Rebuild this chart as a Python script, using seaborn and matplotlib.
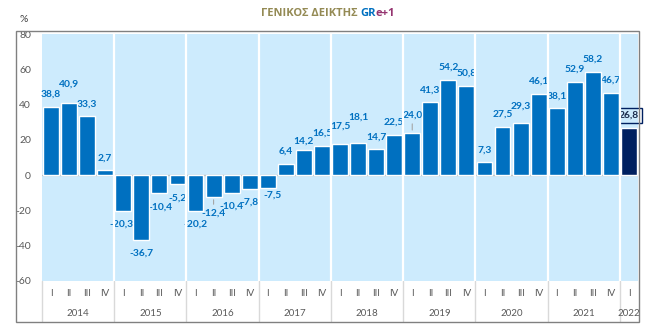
import matplotlib
matplotlib.use("Agg")
import matplotlib.pyplot as plt
import matplotlib.transforms as mtransforms
from matplotlib.patches import Rectangle
from matplotlib.lines import Line2D
import seaborn as sns
import pandas as pd

# ---------------- data ----------------
years = ["2014", "2015", "2016", "2017", "2018", "2019", "2020", "2021", "2022"]
quarters = ["I", "II", "III", "IV"]
values = [38.8, 40.9, 33.3, 2.7,
          -20.3, -36.7, -10.4, -5.2,
          -20.2, -12.4, -10.4, -7.8,
          -7.5, 6.4, 14.2, 16.5,
          17.5, 18.1, 14.7, 22.5,
          24.0, 41.3, 54.2, 50.8,
          7.3, 27.5, 29.3, 46.1,
          38.1, 52.9, 58.2, 46.7,
          26.8]
title_parts = ["ΓΕΝΙΚΟΣ ΔΕΙΚΤΗΣ ", "GR", "e+1"]
y_ticks = [-60, -40, -20, 0, 20, 40, 60, 80]

# ---------------- layout / style (label placement as in the reference) ----------------
label_dist_px = [12.7, 19, 12.7, 12.7, 13.2, 13, 13.8, 13.6, 13, 16, 12.8, 13,
                 7, 12.7, 9, 13, 17.7, 25.6, 11.6, 13, 17.7, 11.7, 12.4, 12.4,
                 12, 12.5, 17, 12.7, 11.7, 12.4, 13, 12.3, 12.7]
label_dx_px = {12: 5, 4: -1.5, 6: 1}
leader_idx = [9, 20]

n = len(values)
q_labels = [quarters[i % 4] for i in range(n)]
kinds = ["past"] * (n - 1) + ["latest"]
df = pd.DataFrame({"pos": list(range(n)), "value": values, "kind": kinds})

sns.set_theme(style="white")
plt.rcParams["font.family"] = ["Lato", "Open Sans", "DejaVu Sans"]

W, H = 658, 330
fig = plt.figure(figsize=(W / 100, H / 100), dpi=100)
fig.patch.set_facecolor("white")

def fx(px):
    return px / W

def fy(py):
    return 1 - py / H

ax_l, ax_r, ax_t, ax_b = 42, 638, 34, 281
ax = fig.add_axes([fx(ax_l), fy(ax_b), (ax_r - ax_l) / W, (ax_b - ax_t) / H])
ax.set_facecolor("#CDEBFD")

BLUE = "#0070C0"
NAVY = "#002060"

sns.barplot(data=df, x="pos", y="value", hue="kind",
            palette={"past": BLUE, "latest": NAVY}, dodge=False,
            width=0.88, legend=False, ax=ax, zorder=3, saturation=1)

ax.set_xlim(-0.5, n - 0.5)
ax.set_ylim(-60, 80)
ax.set_yticks(y_ticks)
ax.set_yticklabels([str(t) for t in y_ticks])
ax.tick_params(axis="y", length=0, pad=8, labelsize=7.5, labelcolor="#595959")
ax.set_xticks([])
ax.set_xlabel("")
ax.set_ylabel("")
for s in ax.spines.values():
    s.set_visible(False)

# zero line
ax.axhline(0, color="#BFBFBF", lw=1, zorder=2.5)

# white year separators inside plot
for k in range(1, len(years)):
    ax.axvline(4 * k - 0.5, color="white", lw=1.6, zorder=4)

# data labels
def fmt(v):
    return f"{v:.1f}".replace(".", ",")

PT = 72 / 100
for i, v in enumerate(values):
    dist = label_dist_px[i]
    dx = label_dx_px.get(i, 0)
    sign = 1 if v >= 0 else -1
    last = (i == n - 1)
    kw = dict(ha="center", va="center", fontsize=7.4, fontweight="bold",
              textcoords="offset points", xytext=(dx * PT, sign * dist * PT),
              xy=(i, v), zorder=2, annotation_clip=False)
    if last:
        t = ax.annotate(fmt(v), color="#1A2A4A",
                        bbox=dict(boxstyle="square,pad=0.3", fc="none", ec=NAVY, lw=1),
                        **kw)
        t.set_clip_on(True)
    else:
        ax.annotate(fmt(v), color=BLUE, **kw)
    if i in leader_idx:
        ax.annotate("", xy=(i, v), xycoords="data",
                    xytext=(0, sign * (dist - 6) * PT), textcoords="offset points",
                    arrowprops=dict(arrowstyle="-", color="#A6A6A6", lw=0.8),
                    zorder=2)

# category axis below plot
trans = mtransforms.blended_transform_factory(ax.transData, fig.transFigure)
for i, q in enumerate(q_labels):
    ax.text(i, fy(293), q, transform=trans, ha="center", va="center",
            fontsize=7, color="#595959", clip_on=False)
for k, yr in enumerate(years):
    start = 4 * k
    end = min(4 * k + 3, n - 1)
    ax.text((start + end) / 2, fy(313), yr, transform=trans, ha="center", va="center",
            fontsize=7, color="#595959", clip_on=False)
for k in range(len(years)):
    x = 4 * k - 0.5
    ax.add_line(Line2D([x, x], [fy(ax_b), fy(321)], transform=trans,
                       color="#D9D9D9", lw=1, clip_on=False))

# outer frame
fig.add_artist(Rectangle((fx(16), fy(322)), (639 - 16) / W, (322 - 31) / H,
                         transform=fig.transFigure, fill=False,
                         ec="#808080", lw=1))

# percent sign
fig.text(fx(24), fy(20), "%", ha="center", va="center", fontsize=7.5, color="#404040")

# title with coloured parts
title_colors = ["#948A54", BLUE, "#953470"]
fig.canvas.draw()
renderer = fig.canvas.get_renderer()
texts = []
for part, col in zip(title_parts, title_colors):
    t = fig.text(0, fy(13), part, ha="left", va="center", fontsize=8,
                 fontweight="bold", color=col,
                 family=["Open Sans", "DejaVu Sans"])
    texts.append(t)
widths = [t.get_window_extent(renderer).width for t in texts]
total = sum(widths)
x0 = 328 - total / 2
for t, w in zip(texts, widths):
    t.set_x(fx(x0))
    x0 += w

fig.savefig("out.png", dpi=100)
